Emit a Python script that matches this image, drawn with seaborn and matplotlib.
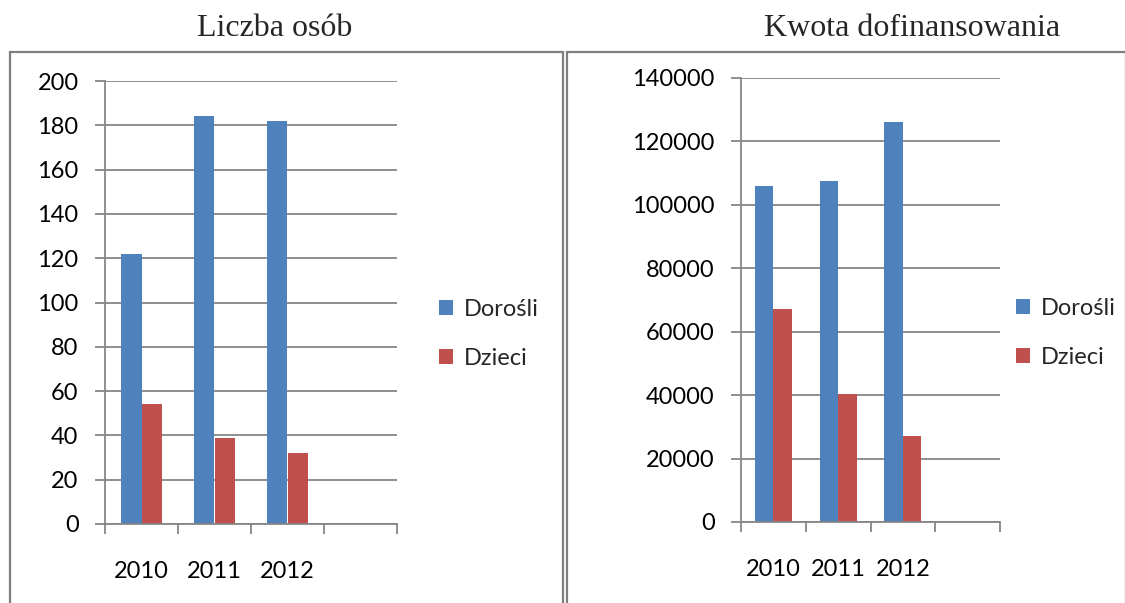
import matplotlib
matplotlib.use('Agg')
import matplotlib.pyplot as plt
import pandas as pd
import seaborn as sns
from matplotlib.patches import Rectangle
from matplotlib.ticker import FixedLocator, NullFormatter

# data
lata = ['2010', '2011', '2012']
grupy = ['Dorośli', 'Dzieci']
osoby_dorosli = [122, 184, 182]
osoby_dzieci = [54, 39, 32]
kwota_dorosli = [106000, 107600, 126200]
kwota_dzieci = [67200, 40400, 27100]

niebieski = '#4F81BD'
czerwony = '#C0504D'
szary = '#868686'

sns.set_theme(style='white')
plt.rcParams['font.family'] = ['Lato', 'DejaVu Sans']

W, H = 1125, 603
fig = plt.figure(figsize=(W / 100, H / 100), dpi=100)


def px_axes(x0, y0, x1, y1):
    return fig.add_axes([x0 / W, 1 - y1 / H, (x1 - x0) / W, (y1 - y0) / H])


def panel(ax, dorosli, dzieci, ymax, krok, leg_x, leg_y):
    df = pd.DataFrame({
        'rok': lata * 2,
        'grupa': [grupy[0]] * 3 + [grupy[1]] * 3,
        'wartosc': dorosli + dzieci,
    })
    sns.barplot(data=df, x='rok', y='wartosc', hue='grupa', order=lata,
                hue_order=grupy, palette=[niebieski, czerwony], width=0.57,
                saturation=1, linewidth=0, ax=ax, legend=True)
    ax.set_xlim(-0.5, 3.5)
    ax.set_ylim(0, ymax)
    ax.set_yticks(range(0, ymax + 1, krok))
    ax.yaxis.grid(True, color=szary, lw=1.3)
    ax.set_axisbelow(True)
    ax.set_xlabel('')
    ax.set_ylabel('')
    for s in ['top', 'right']:
        ax.spines[s].set_visible(False)
    for s in ['left', 'bottom']:
        ax.spines[s].set_color(szary)
        ax.spines[s].set_linewidth(1.3)
    # ticks on category borders, year labels on minor ticks
    ax.xaxis.set_major_locator(FixedLocator([-0.5, 0.5, 1.5, 2.5, 3.5]))
    ax.xaxis.set_major_formatter(NullFormatter())
    ax.xaxis.set_minor_locator(FixedLocator([0, 1, 2]))
    ax.set_xticklabels(lata, minor=True)
    ax.tick_params(axis='x', which='major', length=7, width=1.3, color=szary,
                   direction='out', bottom=True)
    ax.tick_params(axis='x', which='minor', length=0, pad=27, labelsize=17,
                   labelcolor='black')
    ax.tick_params(axis='y', length=7, width=1.3, color=szary, direction='out',
                   left=True, pad=12, labelsize=17, labelcolor='black')
    ax.legend(loc='center left', bbox_to_anchor=(leg_x / W, 1 - leg_y / H),
              bbox_transform=fig.transFigure, frameon=False, fontsize=17,
              handlelength=0.6, handleheight=0.6, handletextpad=0.45,
              labelspacing=1.2, borderpad=0, borderaxespad=0)


ax1 = px_axes(105, 81, 397, 524)
panel(ax1, osoby_dorosli, osoby_dzieci, 200, 20, 439, 334)

ax2 = px_axes(741, 78, 1000, 522)
panel(ax2, kwota_dorosli, kwota_dzieci, 140000, 20000, 1016, 333)

# frames around the panels, open at the bottom edge of the picture
for x0, x1 in [(10, 563), (567, 1126)]:
    fig.patches.append(Rectangle((x0 / W, -0.05), (x1 - x0) / W,
                                 1.05 - 52 / H,
                                 transform=fig.transFigure, fill=False,
                                 edgecolor='#7f7f7f', lw=1.6, clip_on=False))

fig.text(275 / W, 1 - 28 / H, 'Liczba osób', ha='center', va='center',
         fontsize=23, family=['Liberation Serif', 'DejaVu Serif'])
fig.text(912 / W, 1 - 28 / H, 'Kwota dofinansowania', ha='center', va='center',
         fontsize=23, family=['Liberation Serif', 'DejaVu Serif'])

fig.savefig('out.png', dpi=100)
